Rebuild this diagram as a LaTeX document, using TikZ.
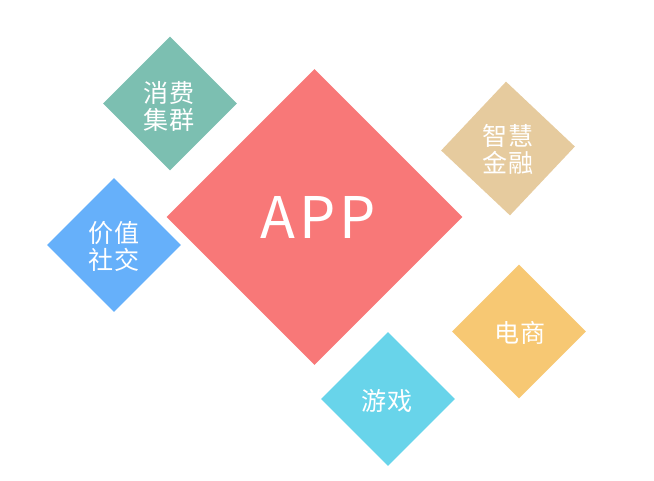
\documentclass[tikz,border=0pt]{standalone}
\usepackage{fontspec}
\newfontfamily\cjk{Noto Sans CJK SC}
\newfontfamily\cjkls[LetterSpace=7]{Noto Sans CJK SC}
\usetikzlibrary{shapes.geometric}
\definecolor{appred}{HTML}{F87878}
\definecolor{dgreen}{HTML}{7CBFB1}
\definecolor{dtan}{HTML}{E6CB9E}
\definecolor{dblue}{HTML}{66B0FA}
\definecolor{dyellow}{HTML}{F7C873}
\definecolor{dcyan}{HTML}{68D4EA}
\tikzset{
  dia/.style={diamond, aspect=1, inner sep=0pt, draw=none, minimum width=134*0.75pt, minimum height=134*0.75pt},
  bigdia/.style={diamond, aspect=1, inner sep=0pt, draw=none, minimum width=296*0.75pt, minimum height=296*0.75pt},
  lbl/.style={text=white, align=center, inner sep=0pt, font=\cjk\fontsize{18.8pt}{20.5pt}\selectfont},
  applbl/.style={text=white, inner sep=0pt, font=\cjkls\fontsize{43pt}{48pt}\selectfont}
}
\begin{document}
\begin{tikzpicture}[x=0.75pt,y=-0.75pt]
\useasboundingbox (0,0) rectangle (654,480);
\node[bigdia, fill=appred] (app) at (314.5,217) {};
\node[dia, fill=dgreen] (xf) at (170,103.5) {};
\node[dia, fill=dtan, rotate=1.7] (jr) at (508,148.5) {};
\node[dia, fill=dblue] (sj) at (114,245) {};
\node[dia, fill=dyellow] (ds) at (519,331.5) {};
\node[dia, fill=dcyan] (yx) at (388,399) {};
\node[applbl] (appt) at (318,217) {APP};
\node[lbl] (xft) at (169,106.5) {消费\\集群};
\node[lbl] (jrt) at (508,149.5) {智慧\\金融};
\node[lbl] (sjt) at (114,246.5) {价值\\社交};
\node[lbl] (dst) at (520,333) {电商};
\node[lbl] (yxt) at (387,401) {游戏};
\end{tikzpicture}
\end{document}
